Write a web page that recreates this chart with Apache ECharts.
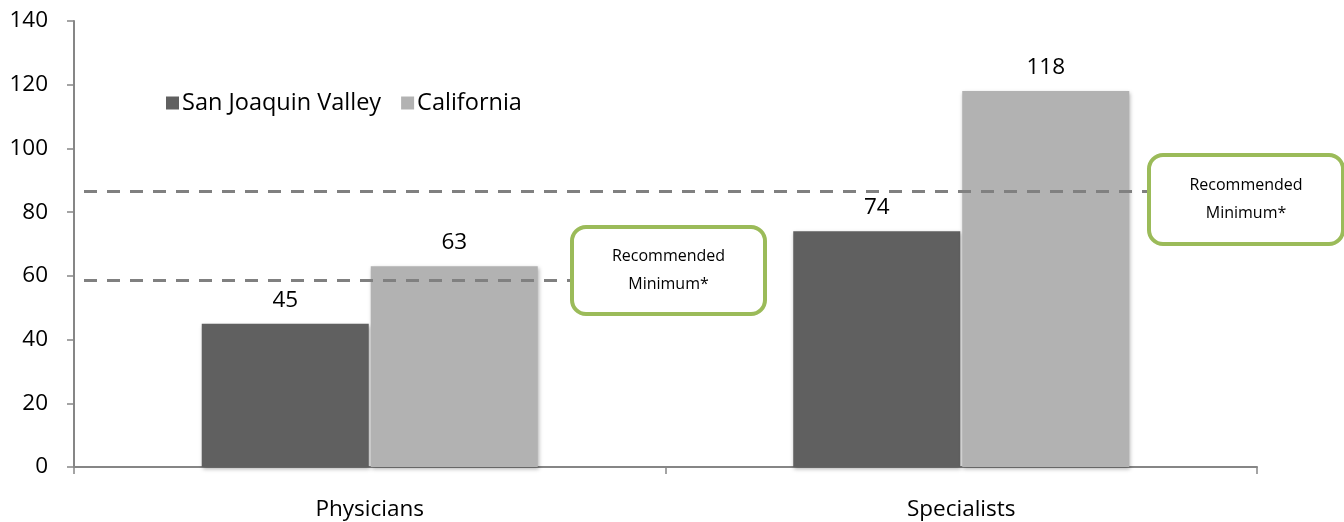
<!DOCTYPE html>
<html>
<head>
<meta charset="utf-8">
<script src="https://cdn.jsdelivr.net/npm/echarts@6/dist/echarts.min.js"></script>
<style>html,body{margin:0;padding:0;background:#fff}#c{width:1344px;height:522px}</style>
</head>
<body>
<div id="c"></div>
<script>
const categories = ['Physicians', 'Specialists'];
const seriesNames = ['San Joaquin Valley', 'California'];
const sjvValues = [45, 74];
const caValues = [63, 118];
const recommendedMinimum = [58.7, 86.6];
const boxText = 'Recommended\nMinimum*';

const FONT = 'Open Sans';
const chart = echarts.init(document.getElementById('c'), null, {renderer: 'canvas'});

const boxes = [
  {left: 570, top: 225, w: 193, h: 87, lineEnd: 570},
  {left: 1147, top: 153, w: 194, h: 89, lineEnd: 1147}
];

const barShadow = {shadowBlur: 4, shadowColor: 'rgba(0,0,0,0.3)', shadowOffsetX: 1, shadowOffsetY: 2};

const option = {
  animation: false,
  backgroundColor: '#ffffff',
  textStyle: {fontFamily: FONT},
  grid: {left: 74, right: 87, top: 21, bottom: 55, containLabel: false},
  legend: {
    left: 161, top: 86,
    itemWidth: 13, itemHeight: 13, itemGap: 20,
    icon: 'rect',
    textStyle: {fontFamily: FONT, fontSize: 23.5, color: '#000', padding: [0, 0, 0, -2]},
    data: seriesNames
  },
  xAxis: {
    type: 'category',
    data: categories,
    boundaryGap: true,
    axisLine: {lineStyle: {color: '#868686', width: 2}},
    axisTick: {show: true, length: 7, lineStyle: {color: '#868686', width: 1.5}},
    axisLabel: {fontFamily: FONT, fontSize: 22.5, color: '#000', margin: 31}
  },
  yAxis: {
    type: 'value',
    min: 0, max: 140, interval: 20,
    splitLine: {show: false},
    axisLine: {show: true, lineStyle: {color: '#868686', width: 2}},
    axisTick: {show: true, length: 7, lineStyle: {color: '#868686', width: 1.5}},
    axisLabel: {fontFamily: FONT, fontSize: 22.5, color: '#000', margin: 26}
  },
  series: [
    {
      name: seriesNames[0],
      type: 'bar',
      data: sjvValues,
      barWidth: 167,
      barGap: '1.2%',
      itemStyle: Object.assign({color: '#606060'}, barShadow),
      label: {show: true, position: 'top', distance: 12, fontFamily: FONT, fontSize: 22.5, color: '#000'},
      markLine: {
        silent: true,
        symbol: ['none', 'none'],
        label: {show: false},
        lineStyle: {type: [13, 10], color: '#808080', width: 3},
        data: recommendedMinimum.map((v, i) => [
          {x: 84, yAxis: v},
          {x: boxes[i].lineEnd, yAxis: v}
        ])
      }
    },
    {
      name: seriesNames[1],
      type: 'bar',
      data: caValues,
      barWidth: 167,
      itemStyle: Object.assign({color: '#B2B2B2'}, barShadow),
      label: {show: true, position: 'top', distance: 12, fontFamily: FONT, fontSize: 22.5, color: '#000'}
    }
  ],
  graphic: boxes.map(b => ({
    type: 'group',
    left: b.left, top: b.top,
    z: 100,
    children: [
      {type: 'rect', shape: {x: 0, y: 0, width: b.w, height: b.h, r: 14},
       style: {fill: '#ffffff', stroke: '#9BBB59', lineWidth: 4}},
      {type: 'text', x: b.w / 2, y: b.h / 2,
       style: {text: boxText, fontFamily: FONT, fontSize: 16, lineHeight: 28, fill: '#000', align: 'center', verticalAlign: 'middle'}}
    ]
  }))
};
chart.setOption(option);
</script>
</body>
</html>
